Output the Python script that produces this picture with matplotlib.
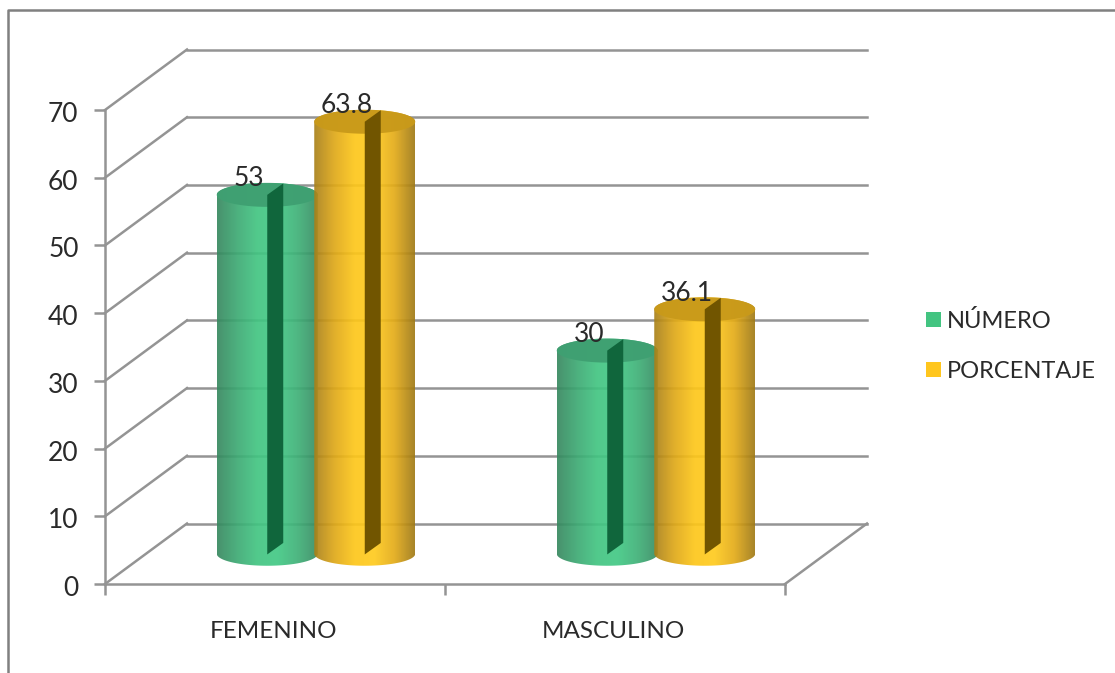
"""Grouped 3D-look cylinder chart: NUMERO / PORCENTAJE by sex."""

import matplotlib

matplotlib.use("Agg")
import matplotlib.pyplot as plt
import numpy as np
from matplotlib.colors import LinearSegmentedColormap
from matplotlib.patches import Patch, PathPatch, Polygon
from matplotlib.path import Path
from matplotlib.transforms import ScaledTranslation

categories = ["FEMENINO", "MASCULINO"]
series_names = ["NÚMERO", "PORCENTAJE"]
numero = [53, 30]
porcentaje = [63.8, 36.1]
value_labels = [["53", "30"], ["63.8", "36.1"]]
y_ticks = [0, 10, 20, 30, 40, 50, 60, 70]

W, H = 1115, 673
AX_L, AX_R, AX_T, AX_B = 105, 785, 110, 584  # front plane, in pixels
PX_X = (AX_R - AX_L) / 2.0  # pixels per category
PX_Y = (AX_B - AX_T) / 70.0  # pixels per unit
DEPTH_X = 82 / PX_X
DEPTH_Y = 60.5 / PX_Y
BAR_W = 101 / PX_X
BAR_STEP = 97.5 / PX_X  # neighbours overlap a little
ELL_H = 12 / PX_Y
SLIT_W = 16 / PX_X
SLIT_H = 11.5 / PX_Y
GRID = "#949494"

STYLES = [
    {
        "cmap": ["#37885f", "#3daa74", "#42c582", "#42c985", "#3fb178", "#388c63"],
        "top": "#3fa072",
        "slit": "#10663c",
        "legend": "#43c481",
    },
    {
        "cmap": ["#a9811a", "#dfa818", "#fdc71a", "#ffcb1e", "#e3ab18", "#a07a16"],
        "top": "#c99a1a",
        "slit": "#715500",
        "legend": "#ffc61e",
    },
]

plt.rcParams["font.family"] = ["Lato", "DejaVu Sans"]
plt.rcParams["font.size"] = 17.5
plt.rcParams["text.color"] = "#2a2a2a"
plt.rcParams["xtick.labelcolor"] = "#2a2a2a"
plt.rcParams["ytick.labelcolor"] = "#2a2a2a"

fig = plt.figure(figsize=(W / 100, H / 100), dpi=100)
ax = fig.add_axes([AX_L / W, 1 - AX_B / H, (AX_R - AX_L) / W, (AX_B - AX_T) / H])
ax.set_facecolor("none")

# outer chart frame
fig.add_artist(plt.Line2D([8 / W, 8 / W, 1], [0, 1 - 10 / H, 1 - 10 / H], color="#808080", lw=1.8))

# back wall and side wall lines
for v in y_ticks:
    ax.plot([DEPTH_X, 2 + DEPTH_X], [v + DEPTH_Y, v + DEPTH_Y], color=GRID, lw=1.8, clip_on=False, zorder=1)
    ax.plot([0, DEPTH_X], [v, v + DEPTH_Y], color=GRID, lw=1.8, clip_on=False, zorder=1)
ax.plot([2, 2 + DEPTH_X], [0, DEPTH_Y], color=GRID, lw=1.8, clip_on=False, zorder=1)


def cylinder(xc, value, style, z):
    """Draw one cylinder standing mid-depth on the floor."""
    base = DEPTH_Y / 2
    top = base + value
    half = BAR_W / 2
    t = np.linspace(0, np.pi, 60)
    arc_x = xc - half * np.cos(t)
    arc_low = base - ELL_H * np.sin(t)
    arc_up = top + ELL_H * np.sin(t)

    body = np.column_stack(
        [
            np.r_[arc_x, arc_x[::-1]],
            np.r_[arc_low, arc_up[::-1]],
        ]
    )
    cmap = LinearSegmentedColormap.from_list("cyl", style["cmap"])
    img = ax.imshow(
        np.linspace(0, 1, 200).reshape(1, -1),
        cmap=cmap,
        extent=[xc - half, xc + half, base - ELL_H, top + ELL_H],
        aspect="auto",
        alpha=0.92,
        zorder=z,
    )
    img.set_clip_path(PathPatch(Path(body), transform=ax.transData))

    # top cap
    tt = np.linspace(0, 2 * np.pi, 120)
    cap = np.column_stack([xc + half * np.cos(tt), top + ELL_H * np.sin(tt)])
    ax.add_patch(Polygon(cap, closed=True, fc=style["top"], ec="none", alpha=0.97, zorder=z + 0.1, clip_on=False))

    # dark slit down the middle
    slit = [
        (xc, top),
        (xc + SLIT_W, top + SLIT_H),
        (xc + SLIT_W, base + SLIT_H - 0.1),
        (xc, base - 0.1),
    ]
    ax.add_patch(Polygon(slit, closed=True, fc=style["slit"], ec="none", zorder=z + 0.2, clip_on=False))


for s, values in enumerate([numero, porcentaje]):
    for c, value in enumerate(values):
        xc = c + 0.5 + DEPTH_X / 2 + (s - 0.5) * BAR_STEP
        cylinder(xc, value, STYLES[s], 3 + s)
        ax.text(
            xc - 18 / PX_X,
            value + DEPTH_Y / 2 + 16 / PX_Y,
            value_labels[s][c],
            ha="center",
            va="center",
            fontsize=19,
            zorder=6,
        )

ax.set_xlim(0, 2)
ax.set_ylim(0, 70)
ax.set_yticks(y_ticks)
ax.set_xticks([0, 1, 2])
ax.set_xticklabels([])
ax.set_xticks([0.5, 1.5], minor=True)
ax.set_xticklabels(categories, minor=True)
ax.tick_params(axis="x", which="minor", length=0, pad=27)
ax.tick_params(axis="x", which="major", length=8, width=1.8, color=GRID)
ax.tick_params(axis="y", length=8, width=1.8, color=GRID, pad=11, labelsize=19)
for lbl in ax.get_yticklabels():
    lbl.set_transform(lbl.get_transform() + ScaledTranslation(0, -2 / 100, fig.dpi_scale_trans))
for lbl in ax.get_xticklabels(minor=True):
    lbl.set_transform(lbl.get_transform() + ScaledTranslation(-2 / 100, 0, fig.dpi_scale_trans))
for side in ["top", "right"]:
    ax.spines[side].set_visible(False)
for side in ["left", "bottom"]:
    ax.spines[side].set_color(GRID)
    ax.spines[side].set_linewidth(1.8)

handles = [Patch(fc=STYLES[i]["legend"], ec="none", label=series_names[i]) for i in range(2)]
fig.legend(
    handles=handles,
    loc="center left",
    bbox_to_anchor=(926 / W, 1 - 346 / H),
    frameon=False,
    handlelength=0.62,
    handleheight=0.62,
    handletextpad=0.28,
    labelspacing=1.22,
    borderpad=0,
    borderaxespad=0,
    fontsize=17,
)

fig.savefig("out.png", dpi=100)
plt.close(fig)
